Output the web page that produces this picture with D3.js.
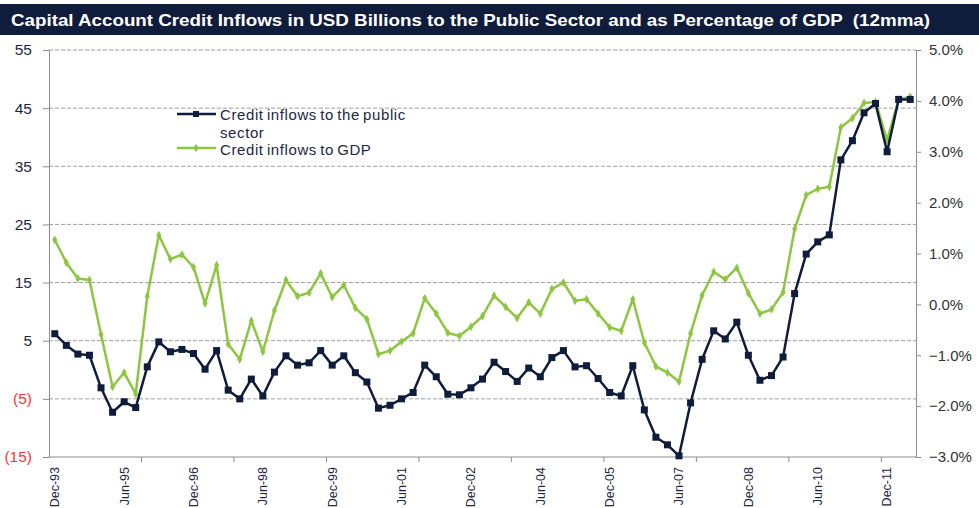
<!DOCTYPE html>
<html lang="en">
<head>
<meta charset="UTF-8">
<title>Capital Account Credit Inflows</title>
<script src="https://d3js.org/d3.v7.min.js"></script>
<style>
  body { margin: 0; background: #fff; }
  svg { display: block; font-family: "Liberation Sans", Arial, sans-serif; }
</style>
</head>
<body>
<svg width="979" height="508"></svg>
<script>
// quarterly, Dec-93 .. Jun-12
var quarters = d3.timeMonth.range(new Date(1993, 11, 1), new Date(2012, 6, 1), 3);
var fmtQ = d3.timeFormat('%b-%y');
var categories = quarters.map(fmtQ);

// USD bn, left axis
var publicSector = [6.2, 4.2, 2.7, 2.5, -3.1, -7.3, -5.5, -6.5, 0.5, 4.8,
  3.1, 3.5, 2.8, 0.1, 3.3, -3.5, -5.0, -1.6, -4.5, -0.4,
  2.4, 0.8, 1.2, 3.3, 0.8, 2.4, -0.5, -2.1, -6.6, -6.1,
  -5.0, -3.9, 0.8, -1.2, -4.2, -4.3, -3.1, -1.6, 1.3, -0.3,
  -2.0, 0.3, -1.2, 2.1, 3.3, 0.5, 0.7, -1.5, -3.9, -4.5,
  0.7, -6.9, -11.6, -12.9, -14.8, -5.7, 1.8, 6.7, 5.3, 8.2,
  2.5, -1.8, -1.0, 2.2, 13.1, 19.9, 22.0, 23.2, 36.1, 39.4,
  44.2, 45.8, 37.5, 46.5, 46.5];

// % of GDP, right axis
var gdpShare = [1.27, 0.82, 0.51, 0.48, -0.59, -1.62, -1.34, -1.76, 0.16, 1.36,
  0.89, 0.98, 0.73, 0.02, 0.77, -0.78, -1.08, -0.32, -0.93, -0.12,
  0.48, 0.16, 0.23, 0.61, 0.14, 0.38, -0.07, -0.29, -0.98, -0.91,
  -0.73, -0.57, 0.12, -0.18, -0.56, -0.62, -0.44, -0.23, 0.17, -0.05,
  -0.27, 0.04, -0.18, 0.30, 0.43, 0.07, 0.10, -0.18, -0.45, -0.52,
  0.10, -0.75, -1.22, -1.34, -1.52, -0.57, 0.18, 0.64, 0.49, 0.72,
  0.22, -0.18, -0.10, 0.24, 1.48, 2.15, 2.27, 2.31, 3.48, 3.66,
  3.96, 3.98, 3.23, 4.03, 4.08];

var leftTicks = [55, 45, 35, 25, 15, 5, -5, -15];
var rightTicks = [5, 4, 3, 2, 1, 0, -1, -2, -3];
var titleText = 'Capital Account Credit Inflows in USD Billions to the Public Sector and as Percentage of GDP  (12mma)';

var navy = '#101c3c', green = '#8dc63f', axisGrey = '#8c8c8c';
var plotL = 49, plotR = 916, plotT = 50, plotB = 457;

var svg = d3.select('svg');

// title bar
svg.append('rect').attr('x', 0).attr('y', 4).attr('width', 979).attr('height', 31).attr('fill', '#0f1c3b');
svg.append('text')
  .attr('x', 11).attr('y', 25.5)
  .attr('fill', '#fff')
  .attr('xml:space', 'preserve')
  .style('font-weight', 'bold')
  .style('font-size', '17px')
  .attr('textLength', 919)
  .attr('lengthAdjust', 'spacingAndGlyphs')
  .text(titleText);

var x = d3.scaleBand().domain(categories).range([plotL, plotR]).padding(0);
var cx = function(i) { return x(categories[i]) + x.bandwidth() / 2; };
var yL = d3.scaleLinear().domain([-15, 55]).range([plotB, plotT]);
var yR = d3.scaleLinear().domain([-3, 5]).range([plotB, plotT]);

// gridlines
svg.append('g').selectAll('line').data(leftTicks.filter(function(d) { return d > -15; }))
  .enter().append('line')
  .attr('x1', plotL).attr('x2', plotR)
  .attr('y1', function(d) { return yL(d); }).attr('y2', function(d) { return yL(d); })
  .attr('stroke', '#a0a0a0').attr('stroke-width', 1).attr('stroke-dasharray', '4,2');

// left axis
var gL = svg.append('g').attr('transform', 'translate(' + plotL + ',0)')
  .call(d3.axisLeft(yL).tickValues(leftTicks).tickSize(6).tickPadding(11)
    .tickFormat(function(d) { return d < 0 ? '(' + (-d) + ')' : d; }));
gL.selectAll('path, line').attr('stroke', axisGrey);
gL.selectAll('text').style('font-size', '15.5px').attr('fill', function(d) { return d < 0 ? '#ff3333' : '#1d2744'; });

// right axis
var gR = svg.append('g').attr('transform', 'translate(' + plotR + ',0)')
  .call(d3.axisRight(yR).tickValues(rightTicks).tickSize(5).tickPadding(8)
    .tickFormat(function(d) { return d3.format('.1f')(d) + '%'; }));
gR.selectAll('path, line').attr('stroke', axisGrey);
gR.selectAll('text').style('font-size', '15px').attr('fill', '#333');

// bottom axis: ticks every 8 quarters, labels every 6
var gB = svg.append('g').attr('transform', 'translate(0,' + plotB + ')');
gB.append('line').attr('x1', plotL).attr('x2', plotR).attr('stroke', axisGrey);
var tickIdx = d3.range(8, categories.length, 8);
gB.selectAll('line.tk').data(tickIdx).enter().append('line').attr('class', 'tk')
  .attr('x1', function(i) { return x(categories[i]); }).attr('x2', function(i) { return x(categories[i]); })
  .attr('y1', 0).attr('y2', 5).attr('stroke', axisGrey);
var labelIdx = d3.range(0, categories.length, 6);
gB.selectAll('text').data(labelIdx).enter().append('text')
  .attr('transform', function(i) { return 'translate(' + cx(i) + ',10) rotate(-90)'; })
  .attr('dy', '0.35em')
  .attr('text-anchor', 'end')
  .style('font-size', '12.5px')
  .attr('fill', '#1d2744')
  .text(function(i) { return categories[i]; });

// lines
var lineL = d3.line().x(function(d, i) { return cx(i); }).y(function(d) { return yL(d); });
var lineR = d3.line().x(function(d, i) { return cx(i); }).y(function(d) { return yR(d); });

svg.append('path').datum(gdpShare).attr('d', lineR)
  .attr('fill', 'none').attr('stroke', green).attr('stroke-width', 2.5).attr('stroke-linejoin', 'round');
svg.append('g').selectAll('path').data(gdpShare).enter().append('path')
  .attr('d', d3.symbol().type(d3.symbolDiamond).size(22))
  .attr('transform', function(d, i) { return 'translate(' + cx(i) + ',' + yR(d) + ')'; })
  .attr('fill', green);

svg.append('path').datum(publicSector).attr('d', lineL)
  .attr('fill', 'none').attr('stroke', navy).attr('stroke-width', 2.5).attr('stroke-linejoin', 'round');
svg.append('g').selectAll('rect').data(publicSector).enter().append('rect')
  .attr('x', function(d, i) { return cx(i) - 3.5; })
  .attr('y', function(d) { return yL(d) - 3.5; })
  .attr('width', 7).attr('height', 7)
  .attr('fill', navy);

// legend
var leg = svg.append('g').style('font-size', '15px').style('word-spacing', '-1.5px')
  .style('letter-spacing', '0.6px').attr('fill', '#1d2744');
leg.append('line').attr('x1', 177).attr('x2', 216).attr('y1', 114).attr('y2', 114).attr('stroke', navy).attr('stroke-width', 2.5);
leg.append('rect').attr('x', 193).attr('y', 111).attr('width', 6).attr('height', 6).attr('fill', navy);
leg.append('text').attr('x', 220).attr('y', 120).text('Credit inflows to the public');
leg.append('text').attr('x', 220).attr('y', 137.5).text('sector');
leg.append('line').attr('x1', 177).attr('x2', 216).attr('y1', 148).attr('y2', 148).attr('stroke', green).attr('stroke-width', 2.5);
leg.append('path').attr('d', d3.symbol().type(d3.symbolDiamond).size(22)).attr('transform', 'translate(196,148)').attr('fill', green);
leg.append('text').attr('x', 220).attr('y', 155).text('Credit inflows to GDP');
</script>
</body>
</html>
